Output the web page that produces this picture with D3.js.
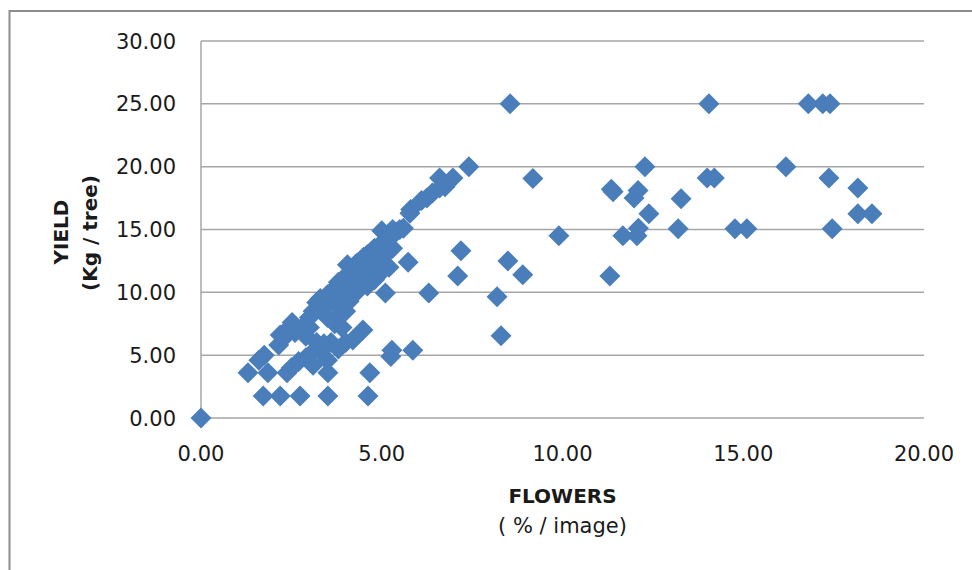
<!DOCTYPE html>
<html>
<head>
<meta charset="utf-8">
<script src="https://cdn.jsdelivr.net/npm/d3@7"></script>
<style>
  html, body { margin: 0; padding: 0; background: #fff; }
  svg { display: block; }
</style>
</head>
<body>
<svg id="chart" width="972" height="570"></svg>
<script>
// ---- data ----
const flowers = [
  0.00,
  1.30, 1.60, 1.75, 1.85, 1.72, 2.19, 2.74, 3.51, 4.62,
  2.15, 2.19, 2.40, 2.46, 2.60, 2.80, 2.90, 3.00, 2.38, 2.70,
  2.90, 3.10, 3.00, 3.30, 3.50, 3.51, 3.60, 3.40, 3.80, 4.00,
  4.20, 3.90, 4.48, 4.67, 5.28, 5.25, 5.86, 3.10, 3.20, 3.30,
  3.40, 3.50, 3.60, 3.60, 3.70, 3.80, 3.90, 4.00, 4.00, 4.10,
  4.20, 4.30, 4.40, 4.35, 4.50, 4.60, 4.70, 4.80, 4.90, 4.50,
  4.60, 4.70, 5.00, 5.00, 5.10, 5.20, 5.30, 5.40, 5.50, 5.30,
  4.95, 4.80, 4.60, 4.30, 4.10, 3.90, 3.80, 4.00, 3.70, 3.50,
  5.10, 5.73, 5.60, 5.78, 5.80, 6.10, 6.25, 6.40, 6.60, 6.75,
  6.60, 6.97, 7.41, 6.30, 7.19, 7.10, 3.00, 3.30, 4.20, 4.40,
  4.80, 5.10, 5.20, 4.05, 3.85, 2.50, 2.30, 3.20, 2.52,
  8.55, 14.05, 16.80, 17.20, 17.40,
  12.28, 16.18,
  9.18, 14.00, 14.20, 17.37,
  11.35, 11.40, 12.09, 11.98, 13.28, 18.17,
  12.39, 18.17, 18.56,
  9.90, 11.67, 12.06, 12.10, 13.20, 14.77, 15.10, 17.46,
  8.49, 8.90, 8.19, 8.30, 11.31
];
const yieldKg = [
  0.00,
  3.60, 4.60, 5.00, 3.60, 1.75, 1.75, 1.75, 1.75, 1.75,
  5.80, 6.60, 7.00, 7.25, 6.80, 7.20, 6.50, 7.20, 3.60, 4.50,
  4.80, 4.20, 5.00, 5.30, 4.60, 3.60, 6.00, 5.90, 5.50, 6.00,
  6.20, 7.20, 7.00, 3.60, 5.40, 4.90, 5.40, 8.50, 9.20, 9.50,
  9.00, 9.80, 10.00, 9.30, 10.30, 10.80, 11.00, 10.50, 9.80, 11.30,
  11.80, 12.30, 12.50, 11.00, 12.80, 13.00, 13.20, 13.50, 12.80, 11.50,
  10.80, 12.00, 13.80, 14.90, 14.20, 14.50, 15.00, 14.80, 15.00, 13.50,
  11.50, 11.00, 10.50, 10.00, 9.30, 8.70, 8.20, 8.50, 7.50, 8.00,
  9.95, 12.40, 15.10, 16.30, 16.60, 17.30, 17.50, 17.90, 18.30, 18.40,
  19.10, 19.10, 20.00, 9.95, 13.30, 11.30, 8.00, 8.60, 10.30, 11.80,
  12.30, 13.00, 12.00, 12.20, 9.50, 4.00, 6.40, 6.00, 7.60,
  25.00, 25.00, 25.00, 25.00, 25.00,
  20.00, 20.00,
  19.05, 19.10, 19.10, 19.10,
  18.20, 18.00, 18.10, 17.50, 17.45, 18.30,
  16.25, 16.25, 16.25,
  14.50, 14.50, 14.50, 15.10, 15.05, 15.05, 15.05, 15.05,
  12.50, 11.40, 9.65, 6.55, 11.30
];
const xTicks = [0, 5, 10, 15, 20];
const yTicks = [0, 5, 10, 15, 20, 25, 30];
const xTitle = ["FLOWERS", "( % / image)"];
const yTitle = ["YIELD", "(Kg / tree)"];

// ---- drawing ----
const svg = d3.select("#chart");
const pLeft = 201, pRight = 924, pTop = 41, pBottom = 418;

const x = d3.scaleLinear().domain([0, 20]).range([pLeft, pRight]);
const y = d3.scaleLinear().domain([0, 30]).range([pBottom, pTop]);

// outer chart frame
svg.append("rect")
  .attr("x", 9.5).attr("y", 11)
  .attr("width", 1000).attr("height", 600)
  .attr("fill", "none").attr("stroke", "#8c8c8c").attr("stroke-width", 2);

// horizontal gridlines
svg.append("g")
  .selectAll("line").data(yTicks).join("line")
  .attr("x1", pLeft).attr("x2", pRight)
  .attr("y1", d => y(d)).attr("y2", d => y(d))
  .attr("stroke", "#a6a6a6").attr("stroke-width", 1.5);

// y axis line
svg.append("line")
  .attr("x1", pLeft).attr("x2", pLeft)
  .attr("y1", pTop).attr("y2", pBottom)
  .attr("stroke", "#a6a6a6").attr("stroke-width", 1.5);

const tickFont = "'DejaVu Sans', sans-serif";

// y tick labels
svg.append("g")
  .selectAll("text").data(yTicks).join("text")
  .attr("x", 176).attr("y", d => y(d))
  .attr("dy", "0.36em")
  .attr("text-anchor", "end")
  .attr("font-family", tickFont).attr("font-size", 21)
  .attr("fill", "#1a1a1a")
  .text(d => d3.format(".2f")(d));

// x tick labels
svg.append("g")
  .selectAll("text").data(xTicks).join("text")
  .attr("x", d => x(d)).attr("y", 461)
  .attr("text-anchor", "middle")
  .attr("font-family", tickFont).attr("font-size", 21)
  .attr("fill", "#1a1a1a")
  .text(d => d3.format(".2f")(d));

// x title
svg.append("text")
  .attr("x", (pLeft + pRight) / 2).attr("y", 503)
  .attr("text-anchor", "middle")
  .attr("font-family", tickFont).attr("font-size", 20).attr("font-weight", "bold")
  .attr("fill", "#1a1a1a")
  .text(xTitle[0]);
svg.append("text")
  .attr("x", (pLeft + pRight) / 2).attr("y", 533)
  .attr("text-anchor", "middle")
  .attr("font-family", tickFont).attr("font-size", 21)
  .attr("fill", "#1a1a1a")
  .text(xTitle[1]);

// y title
svg.append("text")
  .attr("transform", "translate(68,232) rotate(-90)")
  .attr("text-anchor", "middle")
  .attr("font-family", tickFont).attr("font-size", 20).attr("font-weight", "bold")
  .attr("fill", "#1a1a1a")
  .text(yTitle[0]);
svg.append("text")
  .attr("transform", "translate(97,233) rotate(-90)")
  .attr("text-anchor", "middle")
  .attr("font-family", tickFont).attr("font-size", 20).attr("font-weight", "bold")
  .attr("fill", "#1a1a1a")
  .text(yTitle[1]);

// diamond markers
const points = flowers.map((f, i) => ({ f, v: yieldKg[i] }));
const h = 10.5;
const diamond = `M0,${-h}L${h},0L0,${h}L${-h},0Z`;
svg.append("g")
  .selectAll("path").data(points).join("path")
  .attr("transform", d => `translate(${x(d.f)},${y(d.v)})`)
  .attr("d", diamond)
  .attr("fill", "#4a7ebb");
</script>
</body>
</html>
